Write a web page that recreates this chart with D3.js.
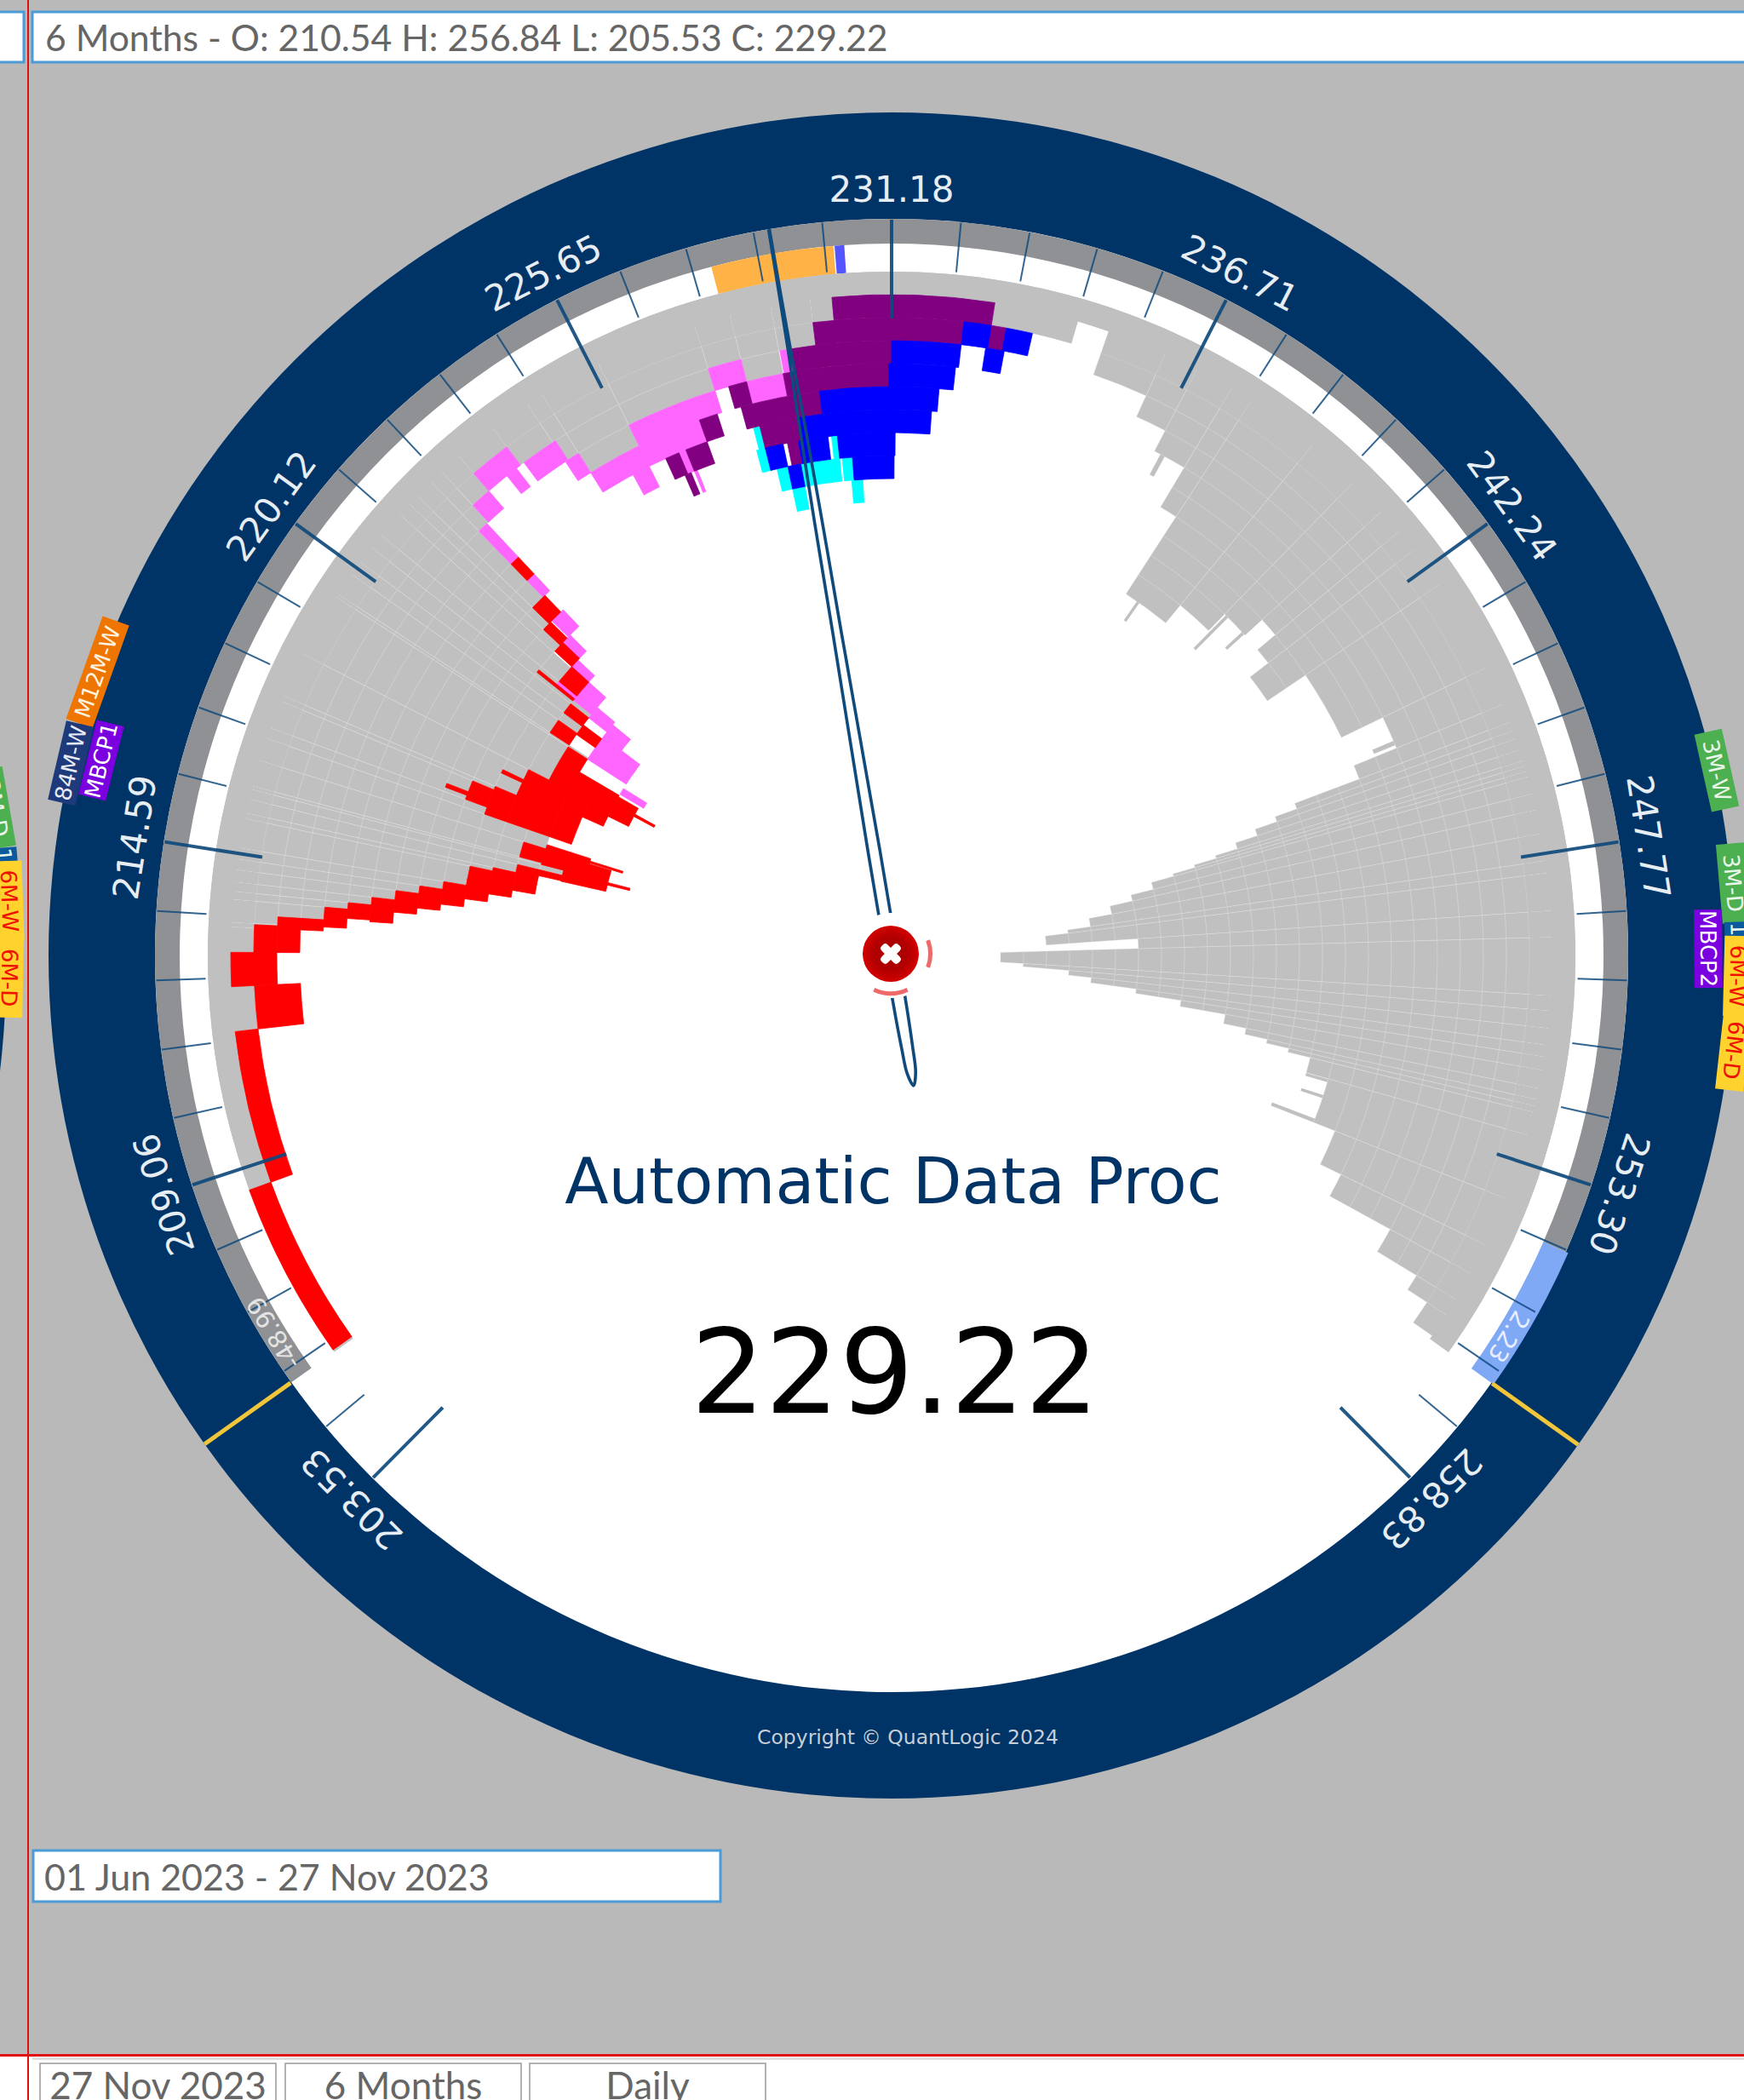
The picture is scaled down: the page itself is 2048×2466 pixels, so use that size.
<!DOCTYPE html>
<html><head><meta charset="utf-8">
<style>html,body{margin:0;padding:0;background:#b9b9b9}svg{display:block}</style>
<script src="https://cdn.jsdelivr.net/npm/d3@7"></script></head>
<body><svg id="c" width="2048" height="2466"></svg>
<script>
const summaryText = "6 Months - O: 210.54 H: 256.84 L: 205.53 C: 229.22";
const dateRangeText = "01 Jun 2023 - 27 Nov 2023";
const tabLabels = ["27 Nov 2023", "6 Months", "Daily"];
const titleText = "Automatic Data Proc";
const closePrice = 229.22, lowPrice = 205.53, highPrice = 256.84;
const majorTicks = [203.53, 209.06, 214.59, 220.12, 225.65, 231.18, 236.71, 242.24, 247.77, 253.30, 258.83];

// [priceFrom, priceTo, rows counted inward from the rim]
const greyDepths = [
 [208.67,211.42,1],[211.42,212.22,2],[212.22,212.83,1],[212.83,213.28,2],[213.28,213.36,4],[213.36,213.77,5],[213.77,213.91,6],
 [213.91,214.08,7],[214.08,214.30,8],[214.30,214.49,9],[214.49,214.69,10],[214.69,215.22,11],[215.22,215.32,12],[215.32,215.57,13],
 [215.57,215.75,15],[215.75,215.81,14],[215.81,216.28,13],[216.28,216.69,14],[216.69,216.89,11],[216.89,217.40,10],[217.40,217.50,11],
 [217.50,218.32,12],[218.32,219.49,13],[219.49,219.55,14],[219.55,219.98,12],[219.98,220.24,13],[220.24,220.57,12],[220.57,220.85,13],
 [220.85,221.34,11],[221.34,221.59,10],[221.59,221.79,9],[221.79,222.14,8],[222.14,222.40,4],[222.40,222.81,3],[222.81,223.59,2],
 [223.59,224.34,3],[224.34,224.65,4],[224.65,225.79,5],[225.79,227.63,4],[227.63,228.28,3],[228.28,229.02,4],[229.02,229.73,3],
 [229.73,230.12,2],[230.12,233.02,1],[233.02,234.53,2],[234.53,235.10,1],[235.10,236.18,3],[236.18,236.81,4],[236.81,237.51,5],
 [237.51,237.92,7],[237.92,239.26,11],[239.26,240.24,10],[240.24,240.96,9],[240.96,241.43,8],[241.43,241.85,9],[241.85,242.61,10],
 [242.61,244.30,8],[244.30,245.02,6],[245.02,245.36,8],[245.36,245.52,11],[245.52,245.67,12],[245.67,245.88,13],[245.88,246.08,14],
 [246.08,246.18,15],[246.18,246.28,16],[246.28,246.38,17],[246.38,246.69,18],[246.69,246.98,19],[246.98,247.41,20],[247.41,247.90,21],
 [247.90,248.12,22],[248.12,248.79,23],[248.79,249.26,19],[249.26,250.30,25],[250.30,250.57,24],[250.57,250.88,22],[250.88,251.18,21],
 [251.18,251.39,19],[251.39,251.63,17],[251.63,251.96,15],[251.96,252.16,14],[252.16,252.28,13],[252.28,252.39,12],[252.39,252.81,11],
 [252.81,254.00,10],[254.00,254.90,9],[254.90,255.47,8],[255.47,256.00,5],[256.00,256.32,3],[256.32,256.77,2]
];
// [priceFrom, priceTo, rowFrom, rowTo]
const greyNeedles = [[236.95,237.05,5,6],[238.28,238.36,11,12],[240.28,240.36,9,11],[240.85,240.93,9,10],[244.85,244.95,6,7],
 [252.82,252.90,10,11],[253.25,253.33,10,11],[253.90,254.00,10,12]];
const pinkCells = [[222.14,222.36,4,6],[222.14,222.36,7,8],[222.40,222.81,3,4],[222.81,223.59,2,3],[223.26,223.49,3,4],[223.67,224.40,3,4],
 [224.34,224.65,4,5],[224.65,227.14,5,6],[225.79,227.63,4,5],[225.40,225.79,6,7],[227.63,228.28,3,4],[228.28,229.02,4,5],[229.04,229.24,3,4],
 [226.49,226.65,6,7],[226.65,226.72,7,8],[221.89,222.28,9,10],[221.55,221.96,10,11],[221.24,221.63,11,12],[220.80,221.38,12,13],
 [220.70,220.87,11,15],[220.16,220.87,14,15],[220.57,220.98,13,14],[219.87,220.38,15,16],[219.49,220.16,14,16],[219.05,219.30,16,17.2]];
const cyanCells = [[228.18,228.32,6,7],[228.12,228.32,7,8],[228.47,228.73,8,9],[229.04,229.96,8,9],[230.02,230.26,8,9],[228.73,229.04,9,10],
 [230.20,230.47,9,10],[229.83,229.96,7,8]];
const purpleCells = [[230.12,233.02,1,2],[229.73,232.51,2,3],[233.02,233.30,2,3],[229.24,231.18,3,4],[229.02,231.12,4,5],[228.04,229.69,5,6],
 [227.91,228.28,4,5],[228.32,229.18,6,7],[228.83,229.08,7,8],[226.18,226.49,6,7],[226.65,227.14,6,7],[227.14,227.53,5,6],[226.42,226.57,7,8]];
const blueCells = [[232.51,233.02,2,3],[233.30,233.79,2,3],[232.98,233.34,3,4],[231.18,232.51,3,4],[231.12,232.45,4,5],[229.69,232.16,5,6],
 [229.18,232.04,6,7],[228.32,228.73,7,8],[229.08,229.75,7,8],[229.96,231.26,7,8],[228.73,229.04,8,9],[230.26,231.24,8,9]];
const redCells = [[205.57,208.67,0,1],[208.67,211.42,1,2],[211.42,212.22,2,4],[212.22,212.83,1,3],[212.83,213.34,2,3],[212.83,213.51,3,4],
 [213.28,213.51,4,5],[213.36,213.77,5,6],[213.57,213.91,6,7],[213.53,214.08,7,8],[213.79,214.30,8,9],[213.94,214.49,9,10],[214.10,214.69,10,11],
 [214.32,214.89,11,12],[214.53,215.22,11,12],[214.55,215.32,12,13],[214.77,215.57,13,14],[215.38,215.57,14,15],[215.36,216.22,15,17],
 [215.62,215.72,17,18],[215.81,216.28,13,15],[215.75,216.42,14,16],[216.25,216.33,16,17.5],[217.00,217.10,9,10],[216.89,217.40,10,11],
 [216.69,217.50,11,12],[216.69,218.32,12,14],[216.69,218.53,14,15],[217.71,218.73,15,16],[218.12,218.94,16,17],[217.90,218.00,11,12],
 [218.57,218.67,17,18],[218.32,219.00,13,16],[219.00,219.49,13,14],[219.55,219.98,12,13],[219.94,220.30,13,14],[220.24,220.57,12,13],
 [220.85,221.38,11,12],[220.67,220.75,10,12],[221.38,221.69,10,11],[221.59,221.85,9,10],[221.79,222.20,8,9],[222.14,222.36,6,7]];
const ringBandOrange = [228.18, 230.22], ringBandBlue = [230.24, 230.40], ringLightBlue = [254.44, 256.84];
const lowLabel = "-48.99", highLabel = "2.23";
// label, price position, fill, text colour
const tags = [
 ["3M-W",247.00,"#4caf50","#e8f5e9"],["3M-D",248.58,"#4caf50","#e8f5e9"],["1",249.22,"#0b5a9e","#e8f5e9"],["6M-W",249.87,"#ffd22e","#f01000"],["6M-D",250.90,"#ffd22e","#f01000"],
 ["MBCP2",249.49,"#7b00e0","#ffffff"],["M12M-W",216.79,"#ee7500","#fff3e0"],["84M-W",215.47,"#1f3a7a","#e8eaf6"],["MBCP1",215.61,"#7b00e0","#ffffff"]
];
const tagRadius = [993,992,995,994,995,959,990,990,956];
const tagLength = [93,93,17,94,94,92,128,95,90];
const needleAlong = [865,720,650,515,387,124,47,-55,-110,-140,-155,-140,-110,-55,47,124,387,515,650,720,865];
const needleOffset = [-.5,-1.5,-3,-4.5,-5,-7,-7,-7.5,-6.5,-5,0,5,6.5,7.5,7,7,5,4.5,3,1.5,.5];

const cx=1047, cy=1122;
const svg=d3.select("#c");
const deg=d3.scaleLinear([203.53,258.83],[-135.2,135.2]);
const rad=p=>deg(p)*Math.PI/180;
const rowR=d3.scaleLinear([0,30],[803,-7]);
const arc=d3.arc();
const cell=(p0,p1,r0,r1)=>arc({innerRadius:r1,outerRadius:r0,startAngle:rad(p0),endAngle:rad(p1)});

svg.append("rect").attr("width",2048).attr("height",2466).attr("fill","#b9b9b9");
// neighbouring dial peeking in at the left edge
svg.append("circle").attr("cx",-983).attr("cy",1140).attr("r",990).attr("fill","#003366");
const frag=[["3M-D",-5,949,80,94,"#4caf50","#e8f5e9"],["1",4,1004,85,17,"#0b5a9e","#e8f5e9"],["6M-W",11,1058,88,94,"#ffd22e","#f01000"],["6M-D",11,1148,91,94,"#ffd22e","#f01000"]];
frag.forEach(f=>{const g=svg.append("g").attr("transform",`translate(${f[1]},${f[2]}) rotate(${f[3]})`);
 g.append("rect").attr("x",-f[4]/2).attr("y",-16).attr("width",f[4]).attr("height",33).attr("fill",f[5]);
 g.append("text").text(f[0]).attr("text-anchor","middle").attr("y",9).attr("font-family","DejaVu Sans").attr("font-size",26).attr("fill",f[6]);});

const root=svg.append("g").attr("transform",`translate(${cx},${cy})`);
root.append("circle").attr("r",990).attr("fill","#003366");
root.append("circle").attr("r",865).attr("fill","#fff");
root.append("path").attr("d",cell(lowPrice,ringLightBlue[0],865,836)).attr("fill","#8f9194");
root.append("path").attr("d",cell(ringLightBlue[0],highPrice,868,836)).attr("fill","#7fa8f5");
root.append("path").attr("d",cell(ringBandOrange[0],ringBandOrange[1],836,803)).attr("fill","#ffb347");
root.append("path").attr("d",cell(ringBandBlue[0],ringBandBlue[1],836,803)).attr("fill","#5555ff");

// grey profile
const gBars=root.append("g");
gBars.append("path").attr("d",cell(lowPrice,highPrice,803,776)).attr("fill","#c0c0c0");
gBars.selectAll("path.f").data(greyDepths).join("path").attr("class","f").attr("d",d=>cell(d[0],d[1],803,rowR(d[2]))).attr("fill","#c0c0c0");
gBars.selectAll("path.n").data(greyNeedles).join("path").attr("class","n").attr("d",d=>cell(d[0],d[1],rowR(d[2]),rowR(d[3]))).attr("fill","#c0c0c0");
const gridCells=[];
greyDepths.forEach(d=>{for(let i=2;i<d[2];i++)gridCells.push([d[0],d[1],i]);});
gBars.selectAll("path.g").data(gridCells).join("path").attr("class","g").attr("d",d=>cell(d[0],d[1],rowR(d[2]),rowR(d[2]+1))).attr("fill","none").attr("stroke","#dcdcdc").attr("stroke-opacity",.32).attr("stroke-width",1);

function paint(data,col){
 root.append("g").selectAll("path").data(data).join("path").attr("d",d=>cell(d[0],d[1],rowR(d[2]),rowR(d[3]))).attr("fill",col).attr("stroke",col).attr("stroke-width",.8);
}
paint(pinkCells,"#ff66ff");
paint(cyanCells,"#00ffff");
paint(purpleCells,"#800080");
paint(blueCells,"#0000ff");
paint(redCells,"#ff0000");

// ticks
const minorTicks=[];
for(let i=0;i<majorTicks.length-1;i++)for(let j=1;j<5;j++)minorTicks.push(majorTicks[i]+(majorTicks[i+1]-majorTicks[i])*j/5);
root.append("g").selectAll("line").data(minorTicks).join("line").attr("transform",d=>`rotate(${deg(d)})`)
 .attr("y1",-864).attr("y2",-806).attr("stroke","#0f4a7c").attr("stroke-width",2).attr("stroke-opacity",.85);
root.append("g").selectAll("line").data(majorTicks).join("line").attr("transform",d=>`rotate(${deg(d)})`)
 .attr("y1",-864).attr("y2",-748).attr("stroke","#0f4a7c").attr("stroke-width",4).attr("stroke-opacity",.92);
root.append("g").selectAll("text").data(majorTicks).join("text").attr("transform",d=>`rotate(${deg(d)}) translate(0,-885)`)
 .text(d=>d.toFixed(2)).attr("text-anchor","middle").attr("font-family","DejaVu Sans").attr("font-size",42).attr("fill","#e6edf3");
root.append("g").selectAll("line").data([lowPrice,highPrice]).join("line").attr("transform",d=>`rotate(${deg(d)})`)
 .attr("y1",-866).attr("y2",-990).attr("stroke","#f1c63a").attr("stroke-width",5);

// ring labels
root.append("text").attr("transform",`rotate(${deg(206.35)}) translate(0,-840)`).text(lowLabel).attr("text-anchor","middle").attr("font-family","DejaVu Sans").attr("font-size",29).attr("fill","#e4e4e4");
root.append("text").attr("transform",`rotate(${deg(256.07)}) translate(0,-842)`).text(highLabel).attr("text-anchor","middle").attr("font-family","DejaVu Sans").attr("font-size",29).attr("fill","#e8eeff");

// tags
tags.forEach((t,i)=>{const g=root.append("g").attr("transform",`rotate(${deg(t[1])}) translate(0,${-tagRadius[i]})`);
 g.append("rect").attr("x",-tagLength[i]/2).attr("y",-16.5).attr("width",tagLength[i]).attr("height",33).attr("fill",t[2]);
 g.append("text").text(t[0]).attr("text-anchor","middle").attr("y",9).attr("font-family","DejaVu Sans").attr("font-size",26).attr("fill",t[3]);});

// needle
const needle=d3.line().x((d,i)=>needleOffset[i]).y(d=>-d).curve(d3.curveCatmullRom.alpha(.5));
root.append("path").attr("transform",`rotate(${deg(closePrice)})`).attr("d",needle(needleAlong)).attr("fill","none").attr("stroke","#0f4a7c").attr("stroke-width",3.6);
root.append("circle").attr("r",50).attr("fill","#fff");
const hub=root.append("g").attr("transform","translate(-1,-2)");
const defs=svg.append("defs");
const rg=defs.append("radialGradient").attr("id","btn");
rg.append("stop").attr("offset","0%").attr("stop-color","#a80000");
rg.append("stop").attr("offset","60%").attr("stop-color","#b00000");
rg.append("stop").attr("offset","100%").attr("stop-color","#d40000");
hub.append("circle").attr("r",33).attr("fill","url(#btn)");
[45,-45].forEach(a=>hub.append("rect").attr("x",-14).attr("y",-5).attr("width",28).attr("height",10).attr("rx",4).attr("fill","#fff").attr("transform",`rotate(${a})`));
const faint=d3.arc().innerRadius(44).outerRadius(49);
[[70,110,"#ee6a6a"],[155,205,"#ee6a6a"]].forEach(s=>hub.append("path").attr("d",faint({startAngle:s[0]*Math.PI/180,endAngle:s[1]*Math.PI/180})).attr("fill",s[2]));

// centre texts
svg.append("text").text(titleText).attr("x",1049).attr("y",1413).attr("text-anchor","middle").attr("font-family","DejaVu Sans").attr("font-size",75).attr("fill","#003366");
svg.append("text").text(closePrice.toFixed(2)).attr("x",1051).attr("y",1659).attr("text-anchor","middle").attr("font-family","DejaVu Sans").attr("font-size",137).attr("fill","#000");
svg.append("text").text("Copyright \u00A9 QuantLogic 2024").attr("x",1066).attr("y",2048).attr("text-anchor","middle").attr("font-family","DejaVu Sans").attr("font-size",23.5).attr("fill","#c8ced6");

// frame
const boxStroke="#4a9bd6";
svg.append("rect").attr("x",-5).attr("y",14).attr("width",33).attr("height",59).attr("fill","#fff").attr("stroke",boxStroke).attr("stroke-width",3);
svg.append("rect").attr("x",38).attr("y",14).attr("width",2030).attr("height",59).attr("fill","#fff").attr("stroke",boxStroke).attr("stroke-width",3);
svg.append("text").text(summaryText).attr("x",53).attr("y",60).attr("font-family","Lato").attr("font-size",42.7).attr("fill","#666");
svg.append("rect").attr("x",39).attr("y",2173).attr("width",807).attr("height",60).attr("fill","#fff").attr("stroke",boxStroke).attr("stroke-width",3);
svg.append("text").text(dateRangeText).attr("x",52).attr("y",2220).attr("font-family","Lato").attr("font-size",43).attr("fill","#666");
svg.append("rect").attr("x",0).attr("y",2413).attr("width",2048).attr("height",53).attr("fill","#fff");
svg.append("rect").attr("x",38).attr("y",2416).attr("width",2010).attr("height",3).attr("fill","#e0e0e0");
tabLabels.forEach((t,i)=>{
 const x=[47,335,622][i];
 svg.append("rect").attr("x",x).attr("y",2423).attr("width",277).attr("height",60).attr("fill","#fff").attr("stroke","#999").attr("stroke-width",1.5);
 svg.append("text").text(t).attr("x",x+138.5).attr("y",2465).attr("text-anchor","middle").attr("font-family","Lato").attr("font-size",44).attr("fill","#666");
});
svg.append("rect").attr("x",32).attr("y",0).attr("width",2).attr("height",2466).attr("fill","#e01010");
svg.append("rect").attr("x",0).attr("y",2412).attr("width",2048).attr("height",3).attr("fill","#e01010");
</script></body></html>
